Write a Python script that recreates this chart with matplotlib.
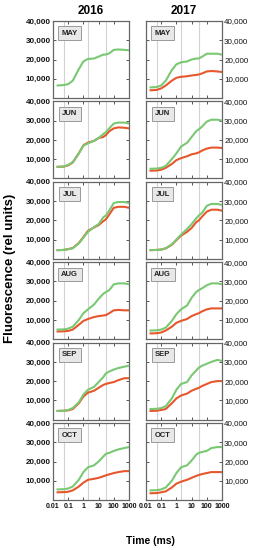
import numpy as np
import matplotlib
matplotlib.use("Agg")
import matplotlib.pyplot as plt
from matplotlib.ticker import FuncFormatter

plt.rcParams['font.family'] = ['Liberation Sans', 'DejaVu Sans']

# sampling times (ms)
times = [0.02, 0.05, 0.1, 0.2, 0.5, 1, 2, 5, 10, 20, 30, 50, 100, 200, 500, 1000]
months = ["MAY", "JUN", "JUL", "AUG", "SEP", "OCT"]
years = ["2016", "2017"]
step_lines = [0.05, 2, 30]

# fluorescence (rel units), green / red curves
green_2016 = {
    "MAY": [6500, 6700, 7200, 9000, 15000, 19000, 20300, 20500, 21500, 22500, 22600, 23200, 25000, 25200, 25000, 24800],
    "JUN": [6000, 6200, 7000, 8500, 13000, 17000, 18200, 19500, 21000, 23000, 24000, 26000, 28500, 29000, 29000, 28500],
    "JUL": [4500, 4600, 5000, 5500, 8000, 11000, 14000, 16500, 18000, 21500, 22500, 25000, 29000, 29500, 29500, 29000],
    "AUG": [5000, 5100, 5500, 6500, 10000, 13500, 15500, 18000, 21000, 23500, 24500, 25500, 28500, 29000, 29000, 28500],
    "SEP": [4500, 4600, 5000, 6000, 9000, 13000, 15500, 17000, 19500, 22000, 24000, 25000, 26000, 26800, 27500, 28000],
    "OCT": [5500, 5600, 6000, 7000, 10500, 14500, 17000, 18000, 20000, 22500, 24000, 24500, 25500, 26300, 27000, 27500],
}
red_2016 = {
    "MAY": None,
    "JUN": [6000, 6100, 6800, 8300, 13000, 17200, 18600, 19500, 21000, 21500, 22500, 24500, 26000, 26500, 26300, 26000],
    "JUL": [4500, 4600, 5000, 5600, 8200, 11300, 14500, 16300, 17500, 19500, 20500, 23000, 26500, 27000, 27000, 26500],
    "AUG": [4000, 4100, 4300, 5000, 7500, 9500, 10500, 11500, 12000, 12300, 12500, 13500, 15000, 15200, 15000, 15000],
    "SEP": [4500, 4600, 4800, 5500, 8500, 12000, 14000, 15000, 16500, 18000, 18500, 19000, 19500, 20500, 21500, 21500],
    "OCT": [4000, 4100, 4300, 5000, 7000, 9000, 10500, 11000, 11500, 12300, 12800, 13300, 14000, 14500, 15000, 15000],
}
green_2017 = {
    "MAY": [5500, 5700, 6500, 9000, 14500, 17500, 18500, 19000, 20000, 20500, 20500, 21500, 23000, 23000, 23000, 22500],
    "JUN": [5000, 5100, 5500, 6500, 10000, 13000, 16500, 18500, 21500, 24500, 25500, 27000, 29500, 30500, 30500, 30000],
    "JUL": [4500, 4600, 4800, 5500, 7500, 10000, 12500, 15500, 18000, 21000, 22500, 24000, 27500, 28500, 28500, 28000],
    "AUG": [4500, 4600, 5000, 6000, 9500, 13000, 15500, 17500, 21500, 24500, 25500, 26500, 28000, 29000, 29000, 28500],
    "SEP": [5500, 5600, 6000, 7000, 11000, 15500, 18500, 19500, 23000, 25500, 27000, 28000, 29000, 30000, 31000, 30500],
    "OCT": [5000, 5100, 5500, 6500, 10000, 14000, 17000, 18000, 20500, 23500, 24500, 25000, 25500, 27000, 27500, 27500],
}
red_2017 = {
    "MAY": [4000, 4200, 5000, 6500, 9000, 10500, 11000, 11300, 11700, 12000, 12200, 12800, 13800, 14000, 13800, 13500],
    "JUN": [4000, 4100, 4500, 5500, 7500, 9500, 10500, 11500, 12500, 13000, 13500, 14500, 15500, 16000, 16000, 15800],
    "JUL": [4500, 4600, 4800, 5400, 7300, 9700, 12000, 14000, 16000, 19000, 20000, 22000, 24500, 25500, 25500, 25000],
    "AUG": [3000, 3100, 3500, 4500, 6500, 8500, 9500, 10500, 12000, 13000, 13500, 14500, 15500, 16000, 16000, 16000],
    "SEP": [4500, 4600, 5000, 5500, 8500, 11000, 12500, 13500, 15000, 16000, 16500, 17500, 18500, 19500, 20000, 20000],
    "OCT": [3500, 3600, 4000, 4500, 6500, 8500, 9500, 10500, 11500, 12500, 13000, 13500, 14000, 14500, 14500, 14500],
}

green_col = "#7ac873"
red_col = "#e6572c"

fig = plt.figure(figsize=(2.55, 5.5), dpi=100)
W, H = 255.0, 550.0
col_left = [53, 146]
ax_w = 76
row_top0 = 21
row_step = 80.4
ax_h = 77

thousands = FuncFormatter(lambda v, p: f"{int(v):,}")

for j, year in enumerate(years):
    greens = green_2016 if j == 0 else green_2017
    reds = red_2016 if j == 0 else red_2017
    for i, m in enumerate(months):
        top = row_top0 + row_step * i
        ax = fig.add_axes([col_left[j] / W, 1 - (top + ax_h) / H, ax_w / W, ax_h / H])
        for t in step_lines:
            ax.axvline(t, color="#d2d2d2", lw=0.8, zorder=0)
        ax.plot(times, greens[m], color=green_col, lw=1.5, zorder=3)
        if reds[m] is not None:
            ax.plot(times, reds[m], color=red_col, lw=1.5, zorder=2)
        ax.set_xscale("log")
        ax.set_xlim(0.01, 1000)
        ax.set_ylim(0, 40000)
        ax.set_xticks([0.01, 0.1, 1, 10, 100, 1000])
        ax.set_xticklabels(["0.01", "0.1", "1", "10", "100", "1000"])
        ax.minorticks_off()
        ax.set_yticks([10000, 20000, 30000, 40000])
        ax.yaxis.set_major_formatter(thousands)
        ax.tick_params(direction="in", length=2.5, width=0.7, colors="#555555",
                       labelcolor="#111111", labelsize=5.8, pad=1.5,
                       top=True, bottom=True, left=True, right=True)
        ax.tick_params(axis="x", labelsize=5.0, pad=2.5)
        for lab in ax.get_xticklabels() + ax.get_yticklabels():
            lab.set_fontweight("bold")
        if j == 1:
            ax.tick_params(labelleft=False, labelright=True)
        if i < len(months) - 1:
            ax.tick_params(labelbottom=False)
        for s in ax.spines.values():
            s.set_color("#666666")
            s.set_linewidth(0.9)
        ax.text(0.22, 0.84, m, transform=ax.transAxes, ha="center", va="center",
                fontsize=5.5, fontweight="bold", color="#222222",
                bbox=dict(boxstyle="square,pad=0.45", facecolor="#e8e8e8",
                          edgecolor="#9a9a9a", linewidth=0.7))

    fig.text((col_left[j] + ax_w / 2) / W, 1 - 11 / H, year, ha="center", va="center",
             fontsize=8.5, fontweight="bold")

fig.text(10 / W, 1 - 268 / H, "Fluorescence (rel units)", rotation=90,
         ha="center", va="center", fontsize=9.5, fontweight="bold")
fig.text(150 / W, 1 - 541 / H, "Time (ms)", ha="center", va="center",
         fontsize=7.5, fontweight="bold")

fig.savefig("out.png", dpi=100, facecolor="white")
